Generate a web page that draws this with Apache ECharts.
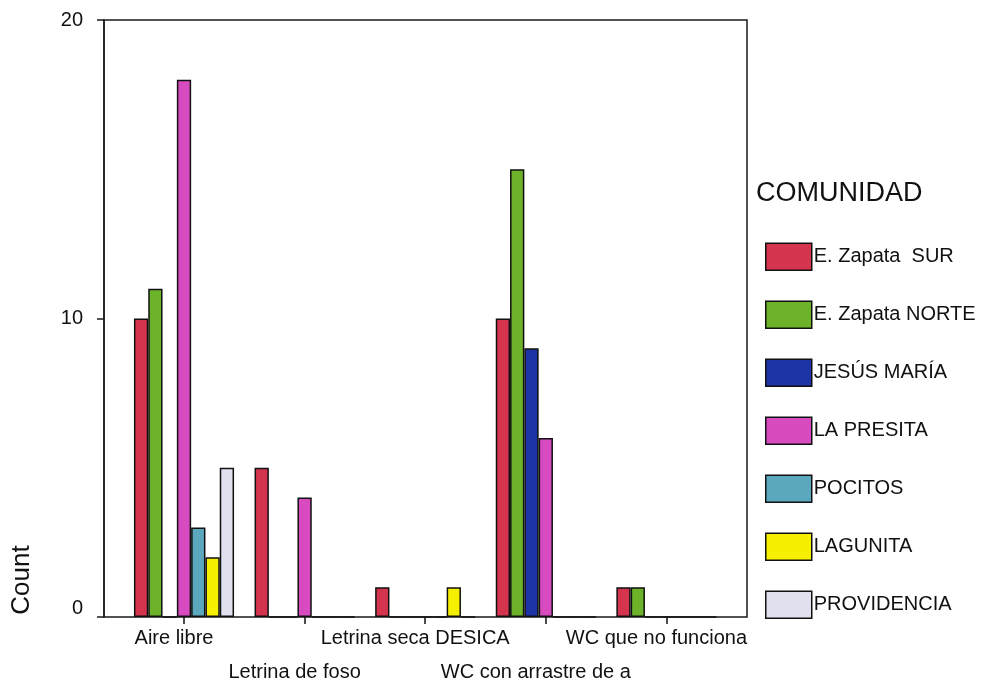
<!DOCTYPE html>
<html>
<head>
<meta charset="utf-8">
<script src="https://cdn.jsdelivr.net/npm/echarts@6/dist/echarts.min.js"></script>
<style>html,body{margin:0;padding:0;background:#fff;}#c{width:983px;height:683px;}</style>
</head>
<body>
<div id="c"></div>
<script>
var categories = ['Aire libre', 'Letrina de foso', 'Letrina seca DESICA', 'WC con arrastre de a', 'WC que no funciona'];
var seriesNames = ['E. Zapata  SUR', 'E. Zapata NORTE', 'JESÚS MARÍA', 'LA PRESITA', 'POCITOS', 'LAGUNITA', 'PROVIDENCIA'];
var zapataSur = [10, 5, 1, 10, 1];
var zapataNorte = [11, 0, 0, 15, 1];
var jesusMaria = [0, 0, 0, 9, 0];
var laPresita = [18, 4, 0, 6, 0];
var pocitos = [3, 0, 0, 0, 0];
var lagunita = [2, 0, 1, 0, 0];
var providencia = [5, 0, 0, 0, 0];
var yTicks = [0, 10, 20];
var legendTitle = 'COMUNIDAD';
var yName = 'Count';

var values = [zapataSur, zapataNorte, jesusMaria, laPresita, pocitos, lagunita, providencia];
var colors = ['#D5344F', '#6DB32A', '#1E33A6', '#D84BC0', '#5BA8BE', '#F6F000', '#E0E0EE'];
var FONT = 'Liberation Sans, Arial, sans-serif';

var chart = echarts.init(document.getElementById('c'), null, {renderer: 'canvas'});
var series = seriesNames.map(function (n, i) {
  return {
    name: n, type: 'bar', xAxisIndex: 1, yAxisIndex: 1,
    data: values[i],
    barGap: '0%', barCategoryGap: '17%',
    itemStyle: {color: colors[i], borderColor: '#111', borderWidth: 1.5},
    emphasis: {disabled: true}
  };
});

chart.setOption({
  animation: false,
  textStyle: {fontFamily: FONT},
  grid: [
    {left: 104, right: 236, top: 20, bottom: 66, show: true, borderColor: '#1a1a1a', borderWidth: 1.5, backgroundColor: 'transparent', containLabel: false, outerBoundsMode: 'none'},
    {left: 123.7, right: 256.3, top: 20, bottom: 66, containLabel: false, outerBoundsMode: 'none'}
  ],
  title: {text: legendTitle, left: 756, top: 180, padding: 0, textStyle: {fontFamily: FONT, fontSize: 27, fontWeight: 'normal', color: '#111'}},
  legend: {
    orient: 'vertical', left: 765, top: 242.5, padding: 0,
    itemWidth: 46, itemHeight: 27, itemGap: 29.5,
    icon: 'rect',
    itemStyle: {borderColor: '#111', borderWidth: 1.5},
    textStyle: {fontFamily: FONT, fontSize: 20, color: '#111', padding: [0, 0, 0, -3]},
    data: seriesNames
  },
  xAxis: [
    {type: 'category', gridIndex: 0, show: false, data: categories},
    {
      type: 'category', gridIndex: 1, data: categories,
      axisLine: {show: false},
      axisTick: {show: true, alignWithLabel: true, length: 7, lineStyle: {color: '#111', width: 1.5}},
      axisLabel: {
        interval: 0, margin: 4, fontSize: 20, lineHeight: 34, color: '#111', fontFamily: FONT,
        padding: [0, 20, 0, 0],
        formatter: function (v, i) { return i % 2 === 1 ? '\n' + v : v; }
      }
    }
  ],
  yAxis: [
    {type: 'value', gridIndex: 0, show: false, min: 0, max: 20},
    {
      type: 'value', gridIndex: 1, min: yTicks[0], max: yTicks[yTicks.length - 1], interval: yTicks[1] - yTicks[0],
      offset: 19.7,
      axisLine: {show: true, lineStyle: {color: '#1a1a1a', width: 1.5}},
      axisTick: {show: true, length: 7, lineStyle: {color: '#1a1a1a', width: 1.5}},
      splitLine: {show: false},
      axisLabel: {
        margin: 21, fontSize: 20, color: '#111', fontFamily: FONT,
        formatter: function (v) { return v === 0 ? '{z|0}' : String(v); },
        rich: {z: {fontSize: 20, fontFamily: FONT, color: '#111', padding: [0, 0, 18, 0]}}
      }
    }
  ],
  graphic: [
    {type: 'text', x: 22, y: 580, rotation: Math.PI / 2,
     style: {text: yName, fontSize: 26, fontFamily: FONT, fill: '#111', textAlign: 'center', textVerticalAlign: 'middle'}}
  ],
  series: series
});
</script>
</body>
</html>
